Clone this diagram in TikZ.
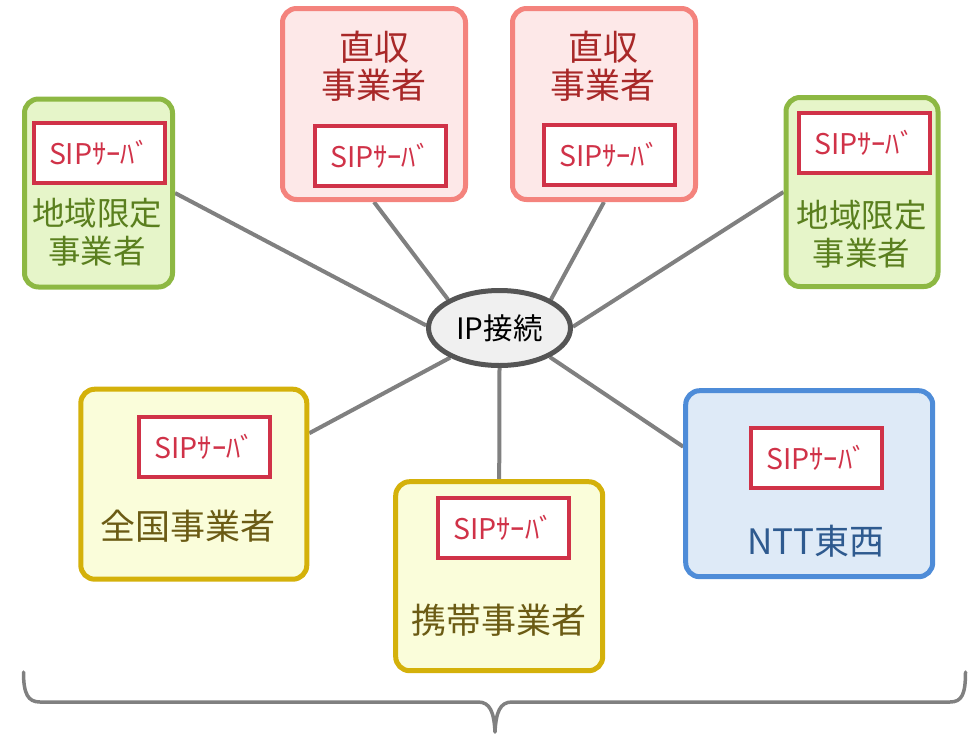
\documentclass[tikz,border=0pt]{standalone}
\usepackage{fontspec}
\setmainfont{Noto Sans CJK JP}
\usetikzlibrary{shapes.geometric}
\pgfdeclarelayer{bg}
\pgfsetlayers{bg,main}
\definecolor{grnline}{HTML}{8DB843}
\definecolor{grnfill}{HTML}{E6F5C9}
\definecolor{grntext}{HTML}{5A7F1E}
\definecolor{pnkline}{HTML}{F4837D}
\definecolor{pnkfill}{HTML}{FDE8E8}
\definecolor{pnktext}{HTML}{A82828}
\definecolor{sipred}{HTML}{D03248}
\definecolor{ylwline}{HTML}{D4B10A}
\definecolor{ylwfill}{HTML}{FAFDDA}
\definecolor{ylwtext}{HTML}{6B5B14}
\definecolor{bluline}{HTML}{4E8CD8}
\definecolor{blufill}{HTML}{DEEAF7}
\definecolor{blutext}{HTML}{2E5A8F}
\definecolor{linkgray}{HTML}{808080}
\definecolor{ipline}{HTML}{555555}
\definecolor{ipfill}{HTML}{F0F0F0}
\begin{document}
\begin{tikzpicture}[x=1pt,y=-1pt,
  box/.style={draw, line width=5pt, rounded corners=14pt, inner sep=0pt},
  grnbox/.style={box, draw=grnline, fill=grnfill},
  pnkbox/.style={box, draw=pnkline, fill=pnkfill},
  ylwbox/.style={box, draw=ylwline, fill=ylwfill},
  blubox/.style={box, draw=bluline, fill=blufill},
  sip/.style={draw=sipred, line width=4pt, fill=white, minimum width=131pt, minimum height=60pt, inner sep=0pt, text=sipred, font=\fontsize{28.5}{32}\selectfont},
  lbl/.style={align=center, inner sep=0pt, font=\fontsize{32.5}{38}\selectfont},
  biglbl/.style={align=center, inner sep=0pt, font=\fontsize{35}{38.5}\selectfont},
  link/.style={draw=linkgray, line width=4pt},
  brace/.style={draw=linkgray, line width=3.5pt, line cap=round, line join=round}
  ]
\useasboundingbox (0,0) rectangle (969,734);

% boxes
\node[grnbox, minimum width=148pt, minimum height=188pt] (lg) at (98.5,193) {};
\node[grnbox, minimum width=152pt, minimum height=189pt] (rg) at (862,192) {};
\node[pnkbox, minimum width=183pt, minimum height=191pt] (p1) at (374,104) {};
\node[pnkbox, minimum width=183pt, minimum height=191pt] (p2) at (604,104) {};
\node[ylwbox, minimum width=226pt, minimum height=190pt] (zk) at (193.8,484.2) {};
\node[ylwbox, minimum width=207pt, minimum height=189pt] (kt) at (499.2,576.2) {};
\node[blubox, minimum width=247pt, minimum height=186pt] (ntt) at (809.2,483.7) {};

% SIP servers
\node[sip] (lgS) at (99.2,152.5) {SIPｻｰﾊﾞ};
\node[sip] (p1S) at (380.3,155.8) {SIPｻｰﾊﾞ};
\node[sip] (p2S) at (609.3,154.7) {SIPｻｰﾊﾞ};
\node[sip] (rgS) at (864.2,143.3) {SIPｻｰﾊﾞ};
\node[sip] (zkS) at (204.7,446.7) {SIPｻｰﾊﾞ};
\node[sip] (ktS) at (503.5,527.5) {SIPｻｰﾊﾞ};
\node[sip] (nttS) at (816.5,457.8) {SIPｻｰﾊﾞ};

% labels
\node[lbl, text=grntext] (lgT) at (97,232.5) {地域限定\\事業者};
\node[lbl, text=grntext] (rgT) at (861.7,234) {地域限定\\事業者};
\node[biglbl, text=pnktext] (p1T) at (374.2,66) {直収\\事業者};
\node[biglbl, text=pnktext] (p2T) at (603.3,66) {直収\\事業者};
\node[biglbl, text=ylwtext] (zkT) at (187.8,526.7) {全国事業者};
\node[biglbl, text=ylwtext] (ktT) at (499.2,620) {携帯事業者};
\node[biglbl, text=blutext] (nttT) at (815.8,541.7) {NTT東西};

% center
\node[ellipse, draw=ipline, fill=ipfill, line width=5pt, minimum width=142pt, minimum height=75pt, inner sep=0pt, font=\fontsize{29.5}{32}\selectfont] (ip) at (499.5,328) {IP接続};

% connectors
\begin{pgfonlayer}{bg}
\draw[link] (lg.east) -- (ip.178);
\draw[link] (p1.south) -- (ip.151);
\draw[link] (p2.south) -- (ip.29);
\draw[link] (rg.west) -- (ip.1);
\draw[link] ([yshift=51pt]zk.east) -- (ip.211);
\draw[link] (kt.north) -- (ip.south);
\draw[link] ([yshift=37pt]ntt.west) -- (ip.330);
\end{pgfonlayer}

% brace
\coordinate (bl) at (23.5,672);
\coordinate (bt) at (495,732);
\coordinate (br) at (965.5,672);
\draw[brace] (bl) .. controls (23.5,694) and (28,702) .. (40,702) -- (478,702)
  .. controls (490,702) and (494,712) .. (bt)
  .. controls (496,712) and (500,702) .. (512,702) -- (950,702)
  .. controls (962,702) and (965.5,694) .. (br);
\end{tikzpicture}
\end{document}
